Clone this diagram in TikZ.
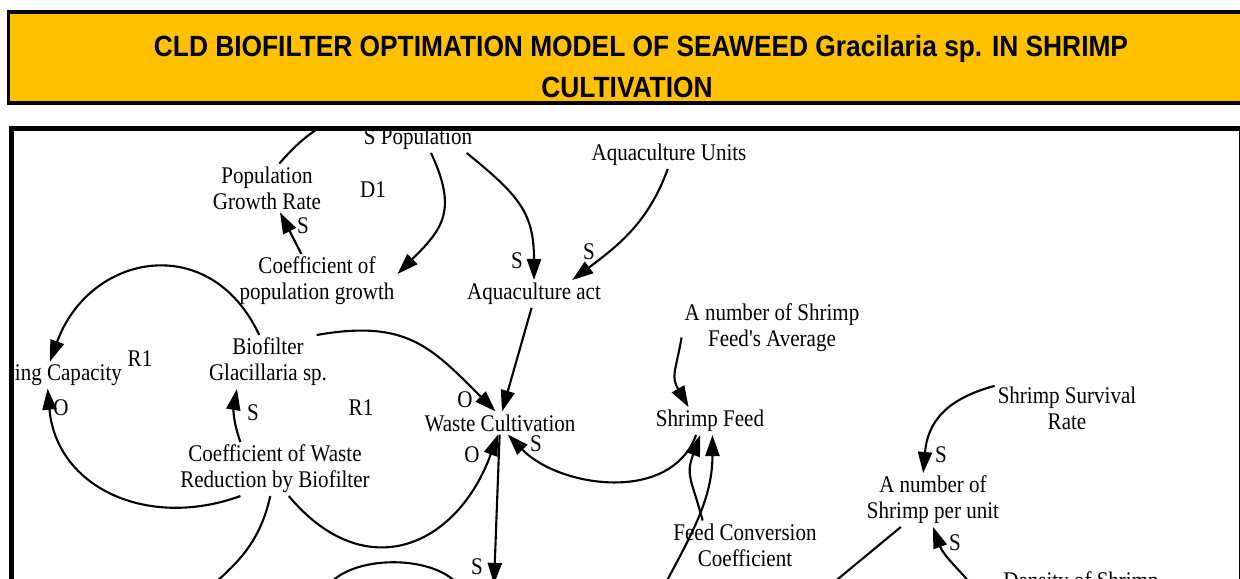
\documentclass[tikz,border=0pt]{standalone}
\usepackage{fontspec}
\usepackage{xcolor}
\usepackage{tikz}
\usetikzlibrary{arrows.meta, positioning}
\newfontfamily\cldfont[FakeStretch=0.88]{Liberation Serif}
\newfontfamily\titlefont[FakeStretch=0.9]{Liberation Sans}
\definecolor{banner}{HTML}{FFC000}

\begin{document}
\begin{tikzpicture}[x=0.025cm, y=0.025cm, >={Triangle[length=15pt, width=10pt]}]
		\tikzstyle{var} = [draw=none, align=center, inner sep=2pt, font=\cldfont\fontsize{17}{18.4}\selectfont]
		\tikzstyle{sign} = [draw=none, inner sep=0pt, font=\cldfont\fontsize{17}{18.4}\selectfont]
		\tikzstyle{arrow} = [line width=1.5pt, ->]
		\tikzstyle{link} = [line width=1.5pt]
		\tikzstyle{heading} = [inner sep=0pt, anchor=base, font=\titlefont\bfseries\fontsize{20.8}{25}\selectfont]
		
		\clip (0, 0) rectangle (1240, 578);
		
		% title banner
		\fill[banner] (8.5, 566) rectangle (1250, 475);
		\node[heading] at (641, 521) (title) {CLD BIOFILTER OPTIMATION MODEL OF SEAWEED Gracilaria sp. IN SHRIMP};
		\node[heading] at (627, 480) (title2) {CULTIVATION};
		\draw[line width=2.8pt] (8.5, 566) rectangle (1250, 475);
		
		\begin{scope}
		\clip (11.5, 450) rectangle (1241, -30);
		
		% variables
		\node[var] 	at (418, 439)		(spop) 	{S Population};
		\node[var] 	at (267, 390)		(pgr) 	{Population\\Growth Rate};
		\node[var] 	at (317, 297)		(cpg) 	{Coefficient of\\population growth};
		\node[var] 	at (669, 423)		(auu) 	{Aquaculture Units};
		\node[var] 	at (534, 284)		(aqa) 	{Aquaculture act};
		\node[var] 	at (268, 216)		(bio) 	{Biofilter\\Glacillaria sp.};
		\node[var, anchor=east] 	at (125, 203)		(cap) 	{Carrying Capacity};
		\node[var] 	at (275, 109)		(cwr) 	{Coefficient of Waste\\Reduction by Biofilter};
		\node[var] 	at (500, 155)		(waste) 	{Waste Cultivation};
		\node[var] 	at (772, 250)		(afa) 	{A number of Shrimp\\Feed's Average};
		\node[var] 	at (710, 157)		(feed) 	{Shrimp Feed};
		\node[var] 	at (745, 33)		(fcc) 	{Feed Conversion\\Coefficient};
		\node[var] 	at (1067, 170)		(ssr) 	{Shrimp Survival\\Rate};
		\node[var] 	at (933, 78)		(nsp) 	{A number of\\Shrimp per unit};
		\node[var] 	at (1081, -5)		(dos) 	{Density of Shrimp};
		
		% ends outside the frame
		\coordinate (popout) at (365, 470);
		\coordinate (wout) at (494, -6);
		\coordinate (feedin) at (662, -12);
		\coordinate (nspout) at (781, -48);
		\coordinate (dosin) at (978, -14);
		\coordinate (cwrout) at (196, -22);
		\coordinate (arcA) at (325, -12);
		\coordinate (arcB) at (462, -12);
		
		% polarities and loops
		\node[sign] at (373, 388) (d1) {D1};
		\node[sign] at (303, 352) (s1) {S};
		\node[sign] at (517, 317) (s2) {S};
		\node[sign] at (589, 326) (s3) {S};
		\node[sign] at (465, 178) (o1) {O};
		\node[sign] at (472, 123) (o2) {O};
		\node[sign] at (536, 134) (s4) {S};
		\node[sign] at (477, 11) (s5) {S};
		\node[sign] at (941, 123) (s6) {S};
		\node[sign] at (955, 35) (s7) {S};
		\node[sign] at (140, 219) (r1a) {R1};
		\node[sign] at (61, 170) (o3) {O};
		\node[sign] at (253, 165) (s8) {S};
		\node[sign] at (361, 170) (r1b) {R1};
		
		\path[arrow]
		(spop.-47) 	edge[out=-65, in=45, looseness=1.3] 	(cpg.5)
		(spop.-16) 	edge[out=-39, in=90, looseness=1.2] 	(aqa.north)
		(auu.265) 	edge[out=-110, in=37] 	(aqa.20)
		(cpg.120) 	edge 	(pgr.-62)
		(aqa.-100) 	edge 	(waste.80)
		(bio.29) 	edge[out=10, in=135, looseness=1.2] 	(waste.111)
		(cwr.-63) 	edge[out=-50, in=-110, looseness=1.4] 	(waste.-100)
		(waste.-92) 	edge 	(wout)
		(feed.-135) 	edge[out=-110, in=-46] 	(waste.-56)
		(fcc.150) 	edge[out=105, in=-110, looseness=1.3] 	(feed.-125)
		(feedin) 	edge[out=62, in=-90] 	(feed.-80)
		(afa.186) 	edge[out=-100, in=120, looseness=1.3] 	(feed.147)
		(ssr.163) 	edge[out=195, in=85, looseness=1.15] 	(nsp.110)
		(nsp.-140) 	edge 	(nspout)
		(dosin) 	edge[out=130, in=-70] 	(nsp.-90)
		(bio.108) 	edge[out=115, in=70, looseness=1.4] 	(cap.68)
		(cwr.-142) 	edge[out=200, in=-85, looseness=1.15] 	(cap.-77)
		(cwr.142) 	edge[out=110, in=-100] 	(bio.-139)
		(cwr.-100) 	edge[out=-102, in=42] 	(cwrout)
		(pgr.63) 	edge[out=50, in=200] 	(popout);
		\draw[link] (arcA) to[out=60, in=120, looseness=0.8] (arcB);
		\end{scope}
		
		% diagram frame
		\draw[line width=3.5pt] (11.5, -30) -- (11.5, 449.5) -- (1241, 449.5) -- (1241, -30);
	\end{tikzpicture}
\end{document}
